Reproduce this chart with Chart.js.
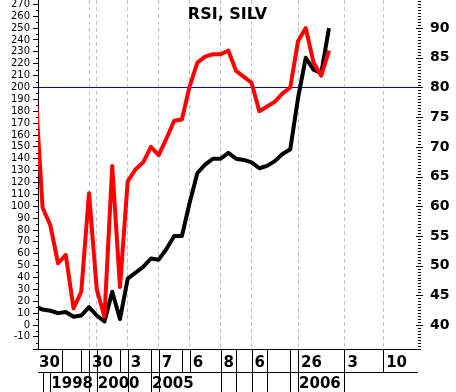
<!DOCTYPE html>
<html>
<head>
<meta charset="utf-8">
<script src="https://cdn.jsdelivr.net/npm/chart.js@4.4.0/dist/chart.umd.min.js"></script>
<style>
    html, body { margin: 0; padding: 0; background: #fff; }
    #wrap { width: 456px; height: 392px; position: relative; }
</style>
</head>
<body>
<div id="wrap"><canvas id="rsiChart"></canvas></div>
<script>
// weekly bars, bar -1 is cut off by the left edge
const bars = [-1, 0, 1, 2, 3, 4, 5, 6, 7, 8, 9, 10, 11, 12, 13, 14, 15, 16, 17, 18, 19,
    20, 21, 22, 23, 24, 25, 26, 27, 28, 29, 30, 31, 32, 33, 34, 35, 36, 37];
const rsiRed = [205, 99, 84, 52, 59, 14, 28, 111, 30, 7, 134, 32, 121, 131, 137, 150, 143, 157, 172, 173, 201,
    221, 226, 228, 228, 231, 214, 209, 204, 180, 184, 188, 195, 200, 239, 250, 221, 210, 231];
const rsiBlack = [16, 13, 12, 10, 11, 7, 8, 15, 8, 3, 28, 5, 39, 44, 49, 56, 55, 64, 75, 75, 103,
    128, 135, 140, 140, 145, 140, 139, 137, 132, 134, 138, 144, 148, 191, 225, 215, 212, 250];
const refLevel = 80; // on the right scale

const leftTicks = [-10, 0, 10, 20, 30, 40, 50, 60, 70, 80, 90, 100, 110, 120, 130, 140, 150, 160,
    170, 180, 190, 200, 210, 220, 230, 240, 250, 260, 270];
const rightTicks = [40, 45, 50, 55, 60, 65, 70, 75, 80, 85, 90];
const gridBars = [6, 7, 11, 15, 19, 23, 27, 33, 39, 44];
const dayLabels = ['30', '30', '3', '7', '6', '8', '6', '26', '3', '10'];
const dayBars = [-0.85, 6, 11, 15, 19, 23, 27, 33, 39, 44];
const yearLabels = ['1998', '2000', '2005', '2006'];
const yearBars = [1, 7, 14, 33];
const row1Seps = [2.5, 5, 6, 7, 10, 11, 14, 15, 18, 19, 23, 25, 27, 29, 32, 33, 39, 44];
const row2Seps = [0, 1, 6, 7, 11, 14, 15, 23, 25, 27, 29, 32, 33, 39];

// right scale = 40 + left / 5
const LEFT_MIN = -20.2, LEFT_MAX = 273.68;
const X_MIN = -0.59, X_MAX = 48.5;
const toRight = v => 40 + v / 5;

const points = vals => bars.map((b, i) => ({ x: b, y: vals[i] }));

// y axes: fixed width and no extra room for the end labels
const fitY = s => {
    s.width = 38;
    s.paddingTop = 0;
    s.paddingBottom = 0;
};

// ticks, the date rows and the title
const decorPlugin = {
    id: 'decor',
    afterDraw(chart) {
        const { ctx, chartArea: area, scales } = chart;
        const x = scales.x, y = scales.y, y2 = scales.y2;
        ctx.save();
        ctx.fillStyle = '#000';

        // small ticks on the left axis
        for (let v = -20; v <= LEFT_MAX; v += 5) {
            if (leftTicks.includes(v)) continue;
            const py = Math.round(y.getPixelForValue(v));
            const len = v % 10 === 0 ? 5 : 2;
            ctx.fillRect(area.left - len, py, len, 1);
        }
        // right axis ticks every 0.5
        for (let v = 36; v <= 94.5; v += 0.5) {
            const py = Math.round(y2.getPixelForValue(v));
            if (v % 5 === 0) ctx.fillRect(area.right - 2, py, 7, 1);
            else ctx.fillRect(area.right, py, 3, 1);
        }

        // date rows under the plot
        const top = area.bottom, mid = 372, bottom = chart.height;
        ctx.fillRect(area.left, top, area.right - area.left, 1);
        ctx.fillRect(area.left, mid, area.right - area.left, 1);
        row1Seps.forEach(b => ctx.fillRect(Math.round(x.getPixelForValue(b)), top, 1, mid - top));
        row2Seps.forEach(b => ctx.fillRect(Math.round(x.getPixelForValue(b)), mid, 1, bottom - mid));

        ctx.font = 'bold 15px "DejaVu Sans"';
        ctx.textAlign = 'left';
        ctx.textBaseline = 'alphabetic';
        dayLabels.forEach((t, i) => ctx.fillText(t, x.getPixelForValue(dayBars[i]) + 3, 367));
        yearLabels.forEach((t, i) => ctx.fillText(t, x.getPixelForValue(yearBars[i]) + 1, 388));

        ctx.font = 'bold 16px "DejaVu Sans"';
        ctx.textAlign = 'center';
        ctx.fillText('RSI, SILV', 227.5, 19);
        ctx.restore();
    }
};

const chart = new Chart(document.getElementById('rsiChart'), {
    type: 'line',
    data: {
        datasets: [{
            label: 'RSI 2',
            data: points(rsiRed),
            borderColor: '#ff0000',
            borderWidth: 4,
            borderJoinStyle: 'round',
            pointRadius: 0,
            clip: 0,
            yAxisID: 'y'
        }, {
            label: 'RSI 1',
            data: points(rsiBlack),
            borderColor: '#000000',
            borderWidth: 4,
            borderJoinStyle: 'round',
            pointRadius: 0,
            clip: 0,
            yAxisID: 'y'
        }, {
            label: 'Level',
            data: [{ x: X_MIN, y: refLevel }, { x: X_MAX, y: refLevel }],
            borderColor: '#0000cc',
            borderWidth: 1,
            pointRadius: 0,
            yAxisID: 'y2'
        }]
    },
    options: {
        responsive: true,
        maintainAspectRatio: false,
        animation: false,
        layout: { padding: 0 },
        plugins: { legend: { display: false }, tooltip: { enabled: false } },
        scales: {
            x: {
                type: 'linear',
                min: X_MIN,
                max: X_MAX,
                afterBuildTicks: s => { s.ticks = gridBars.map(v => ({ value: v })); },
                ticks: { display: false },
                grid: { color: '#c0c0c0', lineWidth: 1, drawTicks: false },
                border: { display: false, dash: [4, 3] },
                afterFit: s => { s.height = 43; s.paddingLeft = 0; s.paddingRight = 0; }
            },
            y: {
                position: 'left',
                min: LEFT_MIN,
                max: LEFT_MAX,
                afterBuildTicks: s => { s.ticks = leftTicks.map(v => ({ value: v })); },
                ticks: {
                    autoSkip: false,
                    padding: 3,
                    color: '#000',
                    font: { family: 'DejaVu Sans', size: 10 }
                },
                grid: { drawOnChartArea: false, drawTicks: true, tickLength: 5, color: '#000' },
                border: { display: true, color: '#000', width: 1 },
                afterFit: fitY
            },
            y2: {
                position: 'right',
                min: toRight(LEFT_MIN),
                max: toRight(LEFT_MAX),
                afterBuildTicks: s => { s.ticks = rightTicks.map(v => ({ value: v })); },
                ticks: {
                    autoSkip: false,
                    padding: 12,
                    color: '#000',
                    font: { family: 'DejaVu Sans', size: 14, weight: 'bold' }
                },
                grid: { display: false, drawTicks: false },
                border: { display: false },
                afterFit: fitY
            }
        }
    },
    plugins: [decorPlugin]
});
</script>
</body>
</html>
